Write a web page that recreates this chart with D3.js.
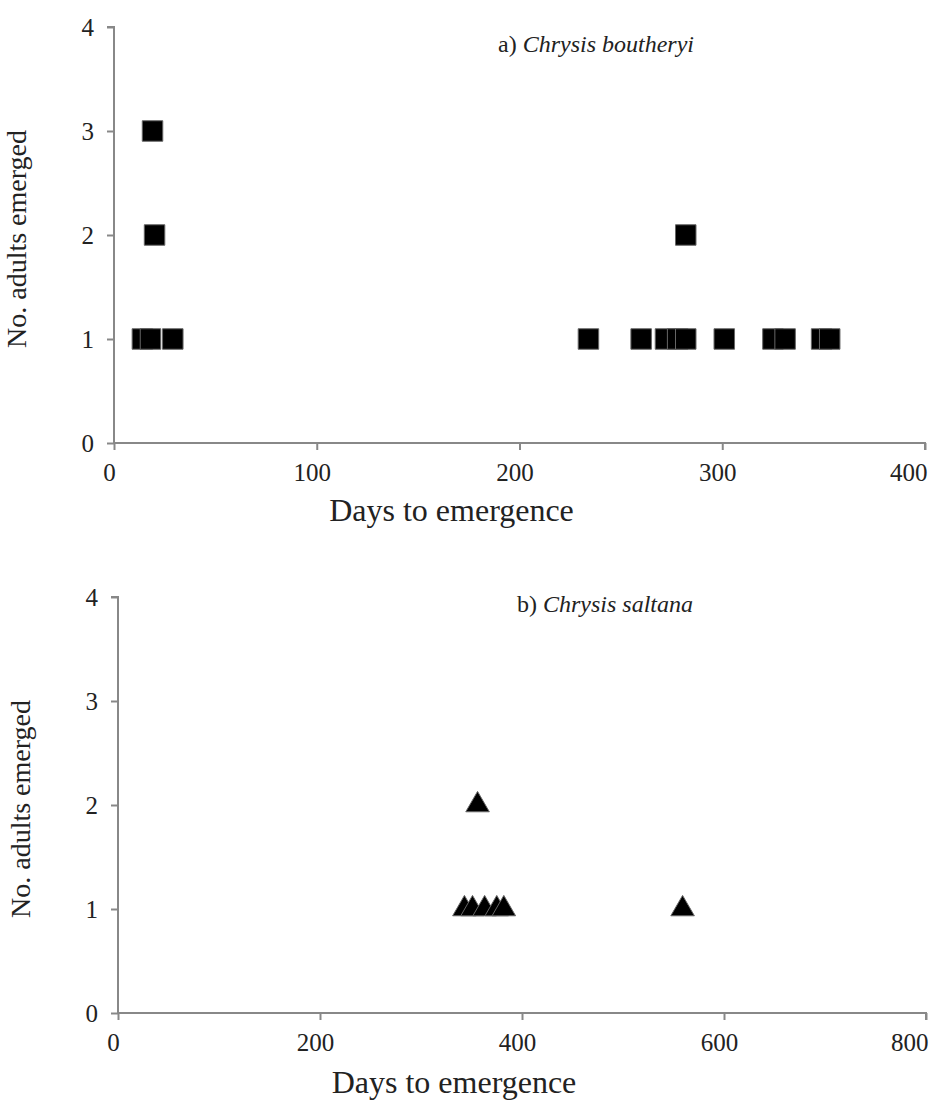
<!DOCTYPE html>
<html>
<head>
<meta charset="utf-8">
<script src="https://cdn.jsdelivr.net/npm/d3@7"></script>
<style>
  body { margin: 0; background: #fff; }
  text { font-family: "Liberation Serif", "DejaVu Serif", serif; fill: #222; }
  .axis path, .axis line { stroke: #888; stroke-width: 2; }
</style>
</head>
<body>
<svg width="947" height="1104"></svg>
<script>
// a) Chrysis boutheryi - days to emergence and number of adults
const boutheryiDays   = [19, 20, 14, 18, 29, 234, 260, 272, 278, 282, 282, 301, 325, 331, 349, 353];
const boutheryiAdults = [3, 2, 1, 1, 1, 1, 1, 1, 1, 1, 2, 1, 1, 1, 1, 1];

// b) Chrysis saltana
const saltanaDays   = [356, 343, 351, 363, 375, 382, 559];
const saltanaAdults = [2, 1, 1, 1, 1, 1, 1];

const yTicks = [0, 1, 2, 3, 4];
const xTicksTop = [0, 100, 200, 300, 400];
const xTicksBottom = [0, 200, 400, 600, 800];

const svg = d3.select('svg');

function panel(opts) {
  const g = svg.append('g');

  const x = d3.scaleLinear().domain(opts.xDomain).range([opts.left, opts.right]);
  const y = d3.scaleLinear().domain([0, 4]).range([opts.bottom, opts.top]);

  // y axis
  const yAxis = g.append('g')
    .attr('class', 'axis')
    .attr('transform', `translate(${opts.left},0)`)
    .call(d3.axisLeft(y).tickValues(yTicks).tickSize(7).tickPadding(13).tickFormat(d3.format('d')));
  yAxis.select('.domain').attr('d', `M-7,${opts.top}H0V${opts.bottom}`);
  yAxis.selectAll('text').style('font-size', '25px');

  // x axis
  const xAxis = g.append('g')
    .attr('class', 'axis')
    .attr('transform', `translate(0,${opts.bottom})`)
    .call(d3.axisBottom(x).tickValues(opts.xTicks).tickSize(7).tickPadding(10).tickFormat(d3.format('d')));
  xAxis.select('.domain').attr('d', `M${opts.left},0H${opts.right}V7`);
  xAxis.selectAll('text').style('font-size', '25px').attr('dy', '0.85em').attr('dx', -5);
  // last label sits inside the right edge, as in the original
  xAxis.selectAll('.tick:last-of-type text').attr('text-anchor', 'end').attr('dx', 2);

  // axis titles
  g.append('text')
    .attr('x', (opts.left + opts.right) / 2 - 68)
    .attr('y', opts.bottom + opts.xTitleGap)
    .attr('text-anchor', 'middle')
    .style('font-size', '32px')
    .text('Days to emergence');

  g.append('text')
    .attr('transform', `translate(${opts.left - opts.yTitleGap},${(opts.top + opts.bottom) / 2 + 4}) rotate(-90)`)
    .attr('text-anchor', 'middle')
    .style('font-size', '28px')
    .text('No. adults emerged');

  // panel label
  const lab = g.append('text')
    .attr('x', opts.labelX)
    .attr('y', opts.labelY)
    .style('font-size', '24px');
  lab.append('tspan').text(opts.letter + ' ');
  lab.append('tspan').style('font-style', 'italic').text(opts.species);

  // points
  const pts = opts.days.map((d, i) => ({ d: d, n: opts.adults[i] }));
  g.selectAll('path.pt')
    .data(pts)
    .enter()
    .append('path')
    .attr('class', 'pt')
    .attr('transform', p => `translate(${x(p.d)},${y(p.n)})`)
    .attr('d', d3.symbol().type(opts.symbol).size(opts.symbolSize))
    .attr('fill', '#000')
    .attr('stroke', '#666')
    .attr('stroke-width', 1);
}

panel({
  xDomain: [0, 400], xTicks: xTicksTop,
  left: 114, right: 925, top: 27, bottom: 443,
  xTitleGap: 78, yTitleGap: 88,
  days: boutheryiDays, adults: boutheryiAdults,
  symbol: d3.symbolSquare, symbolSize: 420,
  letter: 'a)', species: 'Chrysis boutheryi', labelX: 498, labelY: 52
});

panel({
  xDomain: [0, 800], xTicks: xTicksBottom,
  left: 118, right: 926, top: 597, bottom: 1013,
  xTitleGap: 80, yTitleGap: 88,
  days: saltanaDays, adults: saltanaAdults,
  symbol: d3.symbolTriangle, symbolSize: 240,
  letter: 'b)', species: 'Chrysis saltana', labelX: 517, labelY: 612
});
</script>
</body>
</html>
